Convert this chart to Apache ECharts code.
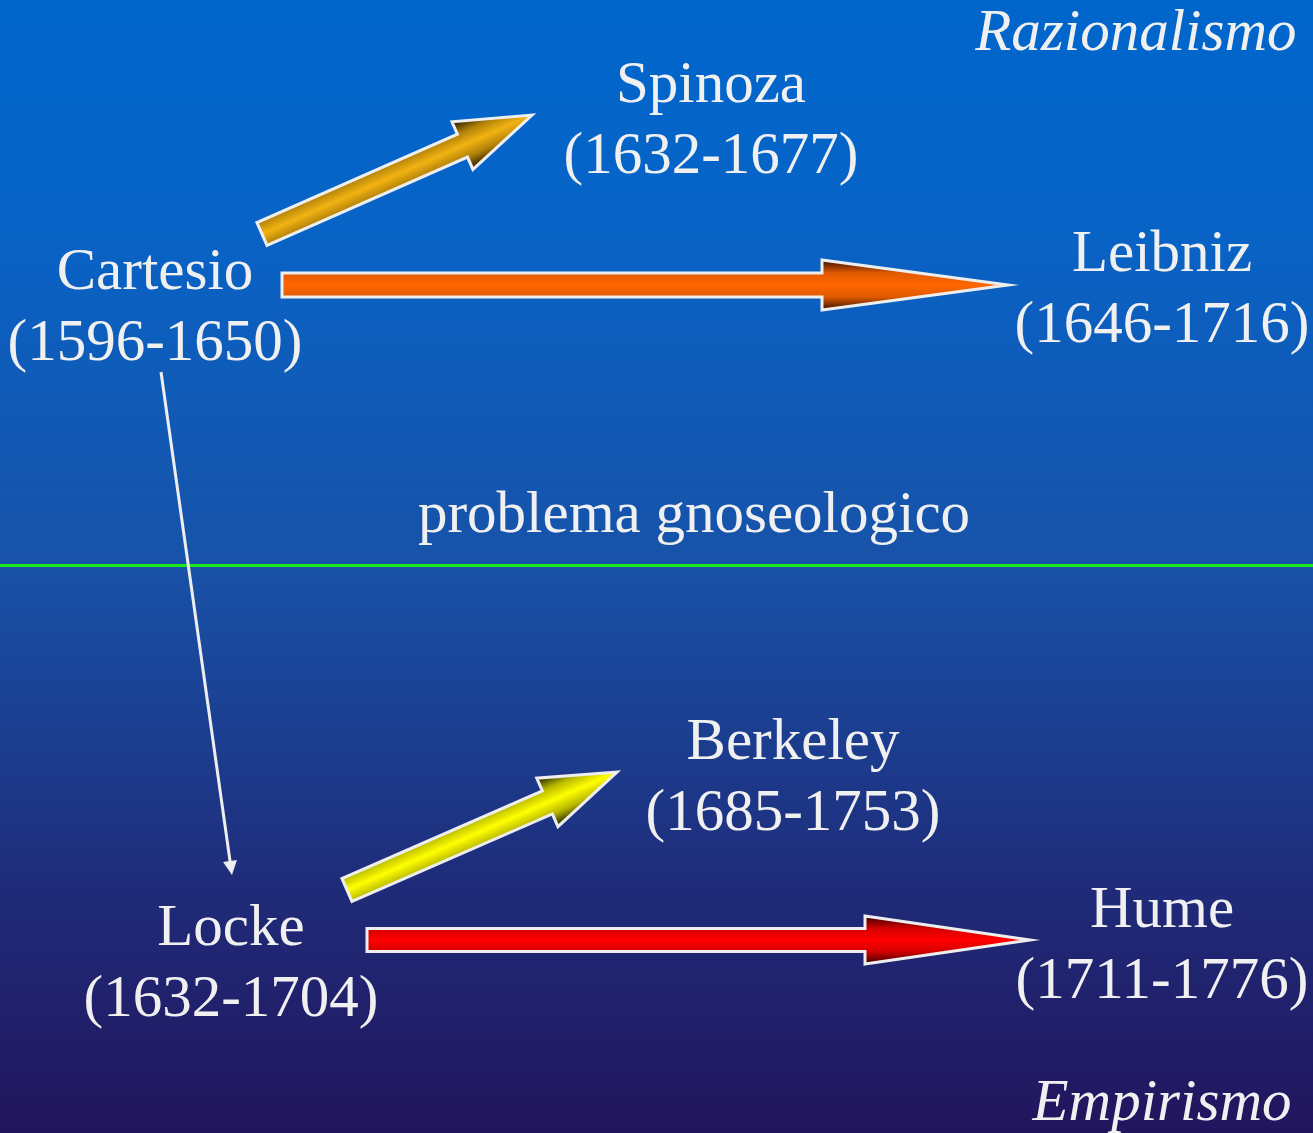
<!DOCTYPE html>
<html><head><meta charset="utf-8">
<script src="https://cdn.jsdelivr.net/npm/echarts@6/dist/echarts.min.js"></script>
<style>html,body{margin:0;padding:0;overflow:hidden;background:#0b3a8e}#c{width:1313px;height:1133px}</style>
</head><body><div id="c"></div>
<script>
// ---- data ----
const philosophers = ['Spinoza', 'Cartesio', 'Leibniz', 'Berkeley', 'Locke', 'Hume'];
const lifespans = ['1632-1677', '1596-1650', '1646-1716', '1685-1753', '1632-1704', '1711-1776'];
const schools = ['Razionalismo', 'Empirismo'];
const divideLabel = 'problema gnoseologico';
const influenceFrom = ['Cartesio', 'Cartesio', 'Locke', 'Locke'];
const influenceTo = ['Spinoza', 'Leibniz', 'Berkeley', 'Hume'];
const lineageFrom = 'Cartesio';
const lineageTo = 'Locke';

// ---- layout (diagram coordinates, 1 unit = 1 px) ----
const W = 1313, H = 1133;
const nodePos = {
  Spinoza: [711, 122], Cartesio: [155, 309], Leibniz: [1162, 291],
  Berkeley: [793, 779], Locke: [231, 965], Hume: [1162, 947]
};
const schoolPos = [[1297, 35], [1292, 1105]];
const dividePos = [694, 516];
const dividerY = 565;
const arrowGeom = {
  'Cartesio>Spinoza': [262, 234, 532, 115],
  'Cartesio>Leibniz': [282, 285, 1008, 285],
  'Locke>Berkeley': [347, 890, 617, 772],
  'Locke>Hume': [367, 940, 1030, 940]
};
const lineageGeom = [[161, 372], [231, 868]];
const arrowStyles = [
  { shaftW: 25, headW: 52, headL: 76, edge: '#1c1300', mid2: '#b08008', mid: '#f2b312' },
  { shaftW: 24, headW: 50, headL: 186, edge: '#3a1000', mid2: '#e05a00', mid: '#ff6600' },
  { shaftW: 25, headW: 53, headL: 76, edge: '#181800', mid2: '#b8b800', mid: '#ffff00' },
  { shaftW: 23, headW: 48, headL: 165, edge: '#3a0000', mid2: '#d40000', mid: '#ff0000' }
];

const textColor = '#F0F0F0';
const serif = '"Liberation Serif", "Times New Roman", serif';

const arrowData = influenceFrom.map((f, i) => arrowGeom[f + '>' + influenceTo[i]]);

const chart = echarts.init(document.getElementById('c'), null, { renderer: 'canvas' });
const hiddenPoint = { color: 'rgba(0,0,0,0)', borderWidth: 0, opacity: 1 };
chart.setOption({
  animation: false,
  backgroundColor: new echarts.graphic.LinearGradient(0, 0, 0, 1, [
    { offset: 0, color: '#0066cc' },
    { offset: 0.2, color: '#0863c6' },
    { offset: 0.5, color: '#1852a8' },
    { offset: 0.78, color: '#1f2c7a' },
    { offset: 1, color: '#22155d' }
  ]),
  grid: { left: 0, right: 0, top: 0, bottom: 0 },
  xAxis: { type: 'value', min: 0, max: W, show: false },
  yAxis: { type: 'value', min: 0, max: H, inverse: true, show: false },
  series: [
    {
      type: 'lines', coordinateSystem: 'cartesian2d', silent: true,
      lineStyle: { color: '#1de81d', width: 3, opacity: 1 },
      symbol: ['none', 'none'],
      data: [{ coords: [[0, dividerY], [W, dividerY]] }]
    },
    {
      type: 'lines', coordinateSystem: 'cartesian2d', silent: true,
      lineStyle: { color: '#eeeeee', width: 3, opacity: 1 },
      symbol: ['none', 'triangle'], symbolSize: [10, 14],
      data: [{ name: lineageFrom + '>' + lineageTo, coords: lineageGeom }]
    },
    {
      type: 'custom', coordinateSystem: 'cartesian2d', clip: false, silent: true,
      data: arrowData,
      renderItem: function (params, api) {
        const st = arrowStyles[params.dataIndex];
        const p1 = api.coord([api.value(0), api.value(1)]);
        const p2 = api.coord([api.value(2), api.value(3)]);
        const dx = p2[0] - p1[0], dy = p2[1] - p1[1];
        const L = Math.hypot(dx, dy);
        const ux = dx / L, uy = dy / L, nx = -uy, ny = ux;
        const hb = [p2[0] - ux * st.headL, p2[1] - uy * st.headL];
        const sw = st.shaftW / 2, hw = st.headW / 2;
        const pts = [
          [p1[0] + nx * sw, p1[1] + ny * sw],
          [hb[0] + nx * sw, hb[1] + ny * sw],
          [hb[0] + nx * hw, hb[1] + ny * hw],
          [p2[0], p2[1]],
          [hb[0] - nx * hw, hb[1] - ny * hw],
          [hb[0] - nx * sw, hb[1] - ny * sw],
          [p1[0] - nx * sw, p1[1] - ny * sw]
        ];
        const g = new echarts.graphic.LinearGradient(
          hb[0] + nx * hw, hb[1] + ny * hw, hb[0] - nx * hw, hb[1] - ny * hw, [
            { offset: 0, color: st.edge },
            { offset: 0.26, color: st.mid2 },
            { offset: 0.5, color: st.mid },
            { offset: 0.74, color: st.mid2 },
            { offset: 1, color: st.edge }
          ], true);
        return {
          type: 'polygon',
          shape: { points: pts },
          style: { fill: g, stroke: '#eeeeee', lineWidth: 3, lineJoin: 'miter' }
        };
      }
    },
    {
      type: 'scatter', silent: true, symbolSize: 1,
      itemStyle: hiddenPoint,
      data: philosophers.map((n, i) => ({ name: n, value: nodePos[n], years: lifespans[i] })),
      label: {
        show: true, position: 'inside', align: 'center', verticalAlign: 'middle',
        formatter: p => p.name + '\n(' + p.data.years + ')',
        fontFamily: serif, fontSize: 59, lineHeight: 71, color: textColor, opacity: 1
      }
    },
    {
      type: 'scatter', silent: true, symbolSize: 1,
      itemStyle: hiddenPoint,
      data: [{ name: divideLabel, value: dividePos }],
      label: {
        show: true, position: 'inside', align: 'center', verticalAlign: 'middle',
        formatter: p => p.name,
        fontFamily: serif, fontSize: 59, color: textColor, opacity: 1
      }
    },
    {
      type: 'scatter', silent: true, symbolSize: 1,
      itemStyle: hiddenPoint,
      data: schools.map((s, i) => ({ name: s, value: schoolPos[i] })),
      label: {
        show: true, position: [0, 0], align: 'right', verticalAlign: 'middle',
        formatter: p => p.name,
        fontFamily: serif, fontStyle: 'italic', fontSize: 59, color: textColor, opacity: 1
      }
    }
  ]
});
</script>
</body></html>
